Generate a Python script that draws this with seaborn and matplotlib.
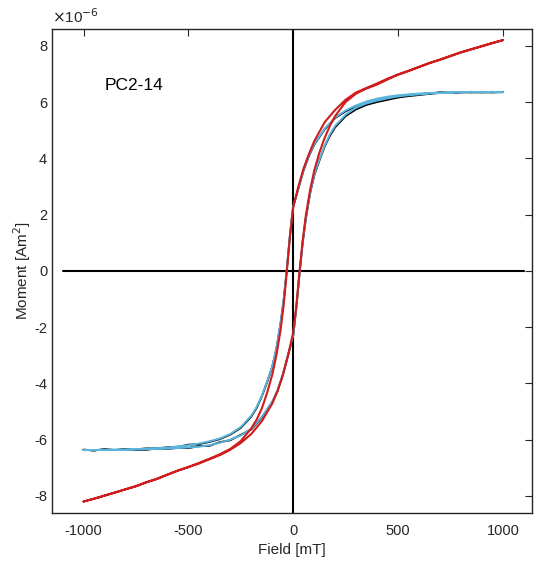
import numpy as np
import pandas as pd
import matplotlib
matplotlib.use('Agg')
import matplotlib.pyplot as plt
import seaborn as sns

# field grid of the ascending branch [mT]; the descending branch runs back the other way
field_up = [-1000, -950, -900, -850, -800, -750, -700, -650, -600, -550, -500, -450, -400, -350, -300, -250,
            -200, -150, -100, -75, -50, -25, 0, 15, 30, 45, 60, 80, 100, 125, 150, 175, 200, 250, 300, 350,
            400, 450, 500, 550, 600, 650, 700, 750, 800, 850, 900, 950, 1000]
field_down = [1000, 950, 900, 850, 800, 750, 700, 650, 600, 550, 500, 450, 400, 350, 300, 250,
              200, 150, 100, 75, 50, 25, 0, -15, -30, -45, -60, -80, -100, -125, -150, -175, -200, -250, -300, -350,
              -400, -450, -500, -550, -600, -650, -700, -750, -800, -850, -900, -950, -1000]

# moments in units of 1e-6 Am^2
red_up = [-8.20, -8.10, -7.99, -7.88, -7.77, -7.66, -7.52, -7.40, -7.25, -7.10, -6.97, -6.85, -6.70, -6.55, -6.36, -6.12,
          -5.80, -5.35, -4.72, -4.28, -3.72, -3.02, -2.20, -1.25, -0.05, 1.05, 1.95, 2.85, 3.55, 4.20, 4.72, 5.15, 5.50, 6.00, 6.30, 6.48,
          6.62, 6.80, 6.97, 7.10, 7.24, 7.38, 7.50, 7.63, 7.76, 7.87, 7.98, 8.09, 8.20]
red_down = [8.20, 8.10, 7.99, 7.88, 7.77, 7.64, 7.51, 7.39, 7.25, 7.11, 6.98, 6.83, 6.66, 6.50, 6.34, 6.08,
            5.72, 5.28, 4.60, 4.15, 3.65, 3.00, 2.25, 1.25, 0.00, -1.20, -2.10, -3.00, -3.70, -4.35, -4.90, -5.30, -5.60, -6.05, -6.33, -6.52,
            -6.68, -6.83, -6.98, -7.10, -7.24, -7.39, -7.51, -7.65, -7.76, -7.88, -7.99, -8.10, -8.20]

blue_up = [-6.37, -6.37, -6.36, -6.36, -6.36, -6.35, -6.34, -6.33, -6.32, -6.30, -6.28, -6.25, -6.20, -6.11, -6.00, -5.85,
           -5.62, -5.20, -4.65, -4.25, -3.70, -3.00, -2.30, -1.30, -0.10, 1.00, 1.85, 2.75, 3.40, 3.95, 4.45, 4.85, 5.15, 5.55, 5.80, 5.95,
           6.05, 6.13, 6.20, 6.24, 6.27, 6.30, 6.32, 6.33, 6.35, 6.35, 6.35, 6.35, 6.35]
blue_down = [6.35, 6.35, 6.35, 6.35, 6.35, 6.34, 6.33, 6.32, 6.30, 6.27, 6.24, 6.19, 6.12, 6.02, 5.88, 5.70,
             5.45, 5.05, 4.50, 4.10, 3.60, 2.95, 2.30, 1.30, 0.10, -1.00, -1.85, -2.75, -3.40, -3.95, -4.45, -4.85, -5.15, -5.55, -5.80, -5.96,
             -6.06, -6.14, -6.20, -6.24, -6.28, -6.30, -6.32, -6.34, -6.35, -6.36, -6.36, -6.37, -6.37]

black_up = [-6.36, -6.38, -6.35, -6.37, -6.35, -6.36, -6.36, -6.31, -6.33, -6.29, -6.30, -6.23, -6.22, -6.09, -6.02, -5.83,
            -5.64, -5.22, -4.67, -4.27, -3.72, -3.02, -2.32, -1.32, -0.12, 0.98, 1.83, 2.73, 3.38, 3.92, 4.42, 4.80, 5.10, 5.50, 5.74, 5.90,
            6.00, 6.08, 6.16, 6.21, 6.25, 6.29, 6.33, 6.32, 6.34, 6.36, 6.34, 6.36, 6.35]
black_down = [6.36, 6.34, 6.36, 6.34, 6.36, 6.33, 6.34, 6.31, 6.28, 6.25, 6.21, 6.15, 6.08, 5.98, 5.85, 5.67,
              5.43, 5.03, 4.48, 4.08, 3.58, 2.93, 2.28, 1.28, 0.08, -1.02, -1.87, -2.77, -3.42, -3.97, -4.47, -4.88, -5.18, -5.58, -5.82, -5.98,
              -6.08, -6.16, -6.18, -6.26, -6.27, -6.32, -6.31, -6.35, -6.34, -6.37, -6.35, -6.38, -6.36]

sample_name = 'PC2-14'

sns.set_style('white')
plt.rcParams['font.family'] = ['Liberation Sans', 'DejaVu Sans']
plt.rcParams['axes.unicode_minus'] = False

fig = plt.figure(figsize=(5.37, 5.66), dpi=100)
ax = fig.add_axes([0.097, 0.094, 0.894, 0.855])

# zero lines
ax.plot([-1100, 1100], [0, 0], color='black', lw=1.5, zorder=1)
ax.axvline(0, color='black', lw=1.5, zorder=1)

loops = [('black', black_up, black_down, 1.4),
         ('#5ab4dc', blue_up, blue_down, 1.4),
         ('#d01c1c', red_up, red_down, 1.5)]
for color, up, down, lw in loops:
    df = pd.DataFrame({'field': field_down + field_up, 'moment': down + up})
    sns.lineplot(data=df, x='field', y='moment', sort=False, estimator=None,
                 color=color, lw=lw, ax=ax, zorder=2)

ax.set_xlim(-1150, 1140)
ax.set_ylim(-8.6, 8.6)
ax.set_xticks([-1000, -500, 0, 500, 1000])
ax.set_yticks([-8, -6, -4, -2, 0, 2, 4, 6, 8])

for sp in ax.spines.values():
    sp.set_color('#262626')
    sp.set_linewidth(1.0)
ax.tick_params(direction='in', length=5, width=0.8, color='#262626',
               labelsize=10.5, labelcolor='#262626', top=True, right=True)
ax.tick_params(axis='x', pad=8)

ax.set_xlabel('Field [mT]', fontsize=11, color='#262626', labelpad=4)
ax.set_ylabel('Moment [Am$^2$]', fontsize=11, color='#262626', labelpad=1)

ax.text(-900, 6.6, sample_name, fontsize=12.5, color='black', va='center')
ax.text(0.0, 1.005, r'$\times$10$^{\mathsf{-6}}$', transform=ax.transAxes,
        fontsize=11, color='#262626', ha='left', va='bottom')

plt.savefig('out.png', dpi=100)
